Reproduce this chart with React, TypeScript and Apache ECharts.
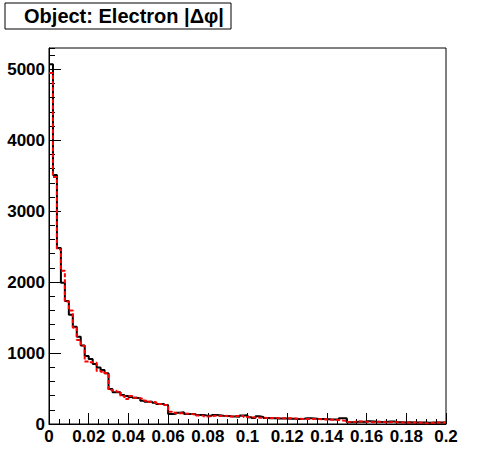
import React, { useEffect, useRef } from "react";
import * as echarts from "echarts";

const BIN_WIDTH = 0.002;
const X_MIN = 0;
const X_MAX = 0.2;
const Y_MAX = 5300;
const TITLE = "Object: Electron |Δφ|";

// Black histogram (data), 100 bins of 0.002
const dataCounts = [
  5070, 3510, 2480, 1990, 1735, 1540, 1370, 1230, 1105, 960,
  915, 845, 795, 762, 715, 494, 447, 447, 409, 395,
  381, 371, 362, 329, 315, 315, 300, 282, 282, 268,
  141, 145, 160, 165, 141, 140, 138, 128, 127, 118,
  117, 127, 122, 115, 112, 108, 105, 103, 120, 122,
  95, 85, 108, 100, 85, 80, 82, 78, 76, 78,
  75, 74, 72, 72, 80, 80, 78, 72, 70, 68,
  66, 65, 66, 80, 80, 24, 26, 30, 32, 28,
  38, 36, 30, 28, 30, 36, 34, 25, 24, 22,
  24, 22, 20, 20, 22, 18, 20, 22, 20, 20,
];

// Red dashed histogram (simulation), 100 bins of 0.002
const simCounts = [
  4946, 3480, 2464, 2160, 1725, 1600, 1358, 1185, 1104, 880,
  870, 865, 748, 738, 715, 480, 470, 456, 395, 353,
  395, 371, 362, 353, 329, 315, 306, 282, 282, 268,
  173, 160, 150, 150, 145, 140, 138, 120, 118, 105,
  110, 117, 113, 113, 115, 105, 103, 113, 113, 100,
  94, 92, 89, 88, 85, 85, 84, 82, 82, 80,
  80, 78, 74, 72, 72, 70, 72, 70, 66, 64,
  61, 60, 58, 50, 47, 28, 30, 34, 36, 32,
  28, 26, 30, 28, 26, 26, 28, 24, 22, 22,
  22, 20, 20, 18, 10, 12, 18, 20, 20, 20,
];

function toSteps(counts: number[]): [number, number][] {
  const pts: [number, number][] = counts.map((c, i) => [X_MIN + i * BIN_WIDTH, c]);
  pts.push([X_MIN + counts.length * BIN_WIDTH, counts[counts.length - 1]]);
  return pts;
}

const FONT = "'Liberation Sans', Arial, Helvetica, sans-serif";

export default function App() {
  const ref = useRef<HTMLDivElement>(null);
  useEffect(() => {
    document.body.style.margin = "0";
    const chart = echarts.init(ref.current!, null, { renderer: "svg" });
    const labelStyle = {
      color: "#000",
      fontFamily: FONT,
      fontWeight: "bold" as const,
      fontSize: 17,
    };
    chart.setOption({
      animation: false,
      backgroundColor: "#fff",
      grid: {
        left: 49,
        right: 50,
        top: 48,
        bottom: 48,
        show: true,
        borderColor: "#000",
        borderWidth: 1,
        backgroundColor: "transparent",
      },
      xAxis: {
        type: "value",
        min: X_MIN,
        max: X_MAX,
        interval: 0.02,
        axisLine: { show: true, onZero: false, lineStyle: { color: "#000", width: 1 } },
        axisTick: { show: true, inside: true, length: 11, lineStyle: { color: "#000" } },
        minorTick: { show: true, splitNumber: 4, length: 5, lineStyle: { color: "#000" } },
        splitLine: { show: false },
        axisLabel: {
          ...labelStyle,
          margin: 4,
          formatter: (v: number) => String(parseFloat(v.toFixed(3))),
        },
      },
      yAxis: [
        {
          type: "value",
          min: 0,
          max: Y_MAX,
          interval: 1000,
          axisLine: { show: true, lineStyle: { color: "#000", width: 1 } },
          axisTick: { show: true, inside: true, length: 12, lineStyle: { color: "#000" } },
          splitLine: { show: false },
          axisLabel: {
            ...labelStyle,
            margin: 4,
            showMaxLabel: false,
            formatter: (v: number) => String(v),
          },
        },
        {
          type: "value",
          min: 0,
          max: Y_MAX,
          interval: 200,
          position: "left",
          axisLine: { show: false },
          axisTick: { show: true, inside: true, length: 6, lineStyle: { color: "#000" } },
          splitLine: { show: false },
          axisLabel: { show: false },
        },
      ],
      series: [
        {
          type: "line",
          step: "end",
          data: toSteps(dataCounts),
          showSymbol: false,
          symbol: "none",
          lineStyle: { color: "#000", width: 2 },
          z: 2,
        },
        {
          type: "line",
          step: "end",
          data: toSteps(simCounts),
          showSymbol: false,
          symbol: "none",
          lineStyle: { color: "#ff0000", width: 2, type: [4, 2] },
          z: 3,
        },
      ],
      graphic: [
        {
          type: "rect",
          shape: { x: 5, y: 3, width: 226, height: 26 },
          style: { fill: "#fff", stroke: "#000", lineWidth: 1 },
        },
        {
          type: "text",
          x: 124,
          y: 16,
          style: {
            text: TITLE,
            fill: "#000",
            font: `bold 20px ${FONT}`,
            align: "center",
            verticalAlign: "middle",
          },
        },
      ],
    });
    return () => chart.dispose();
  }, []);
  return <div ref={ref} style={{ width: 496, height: 472 }} />;
}
